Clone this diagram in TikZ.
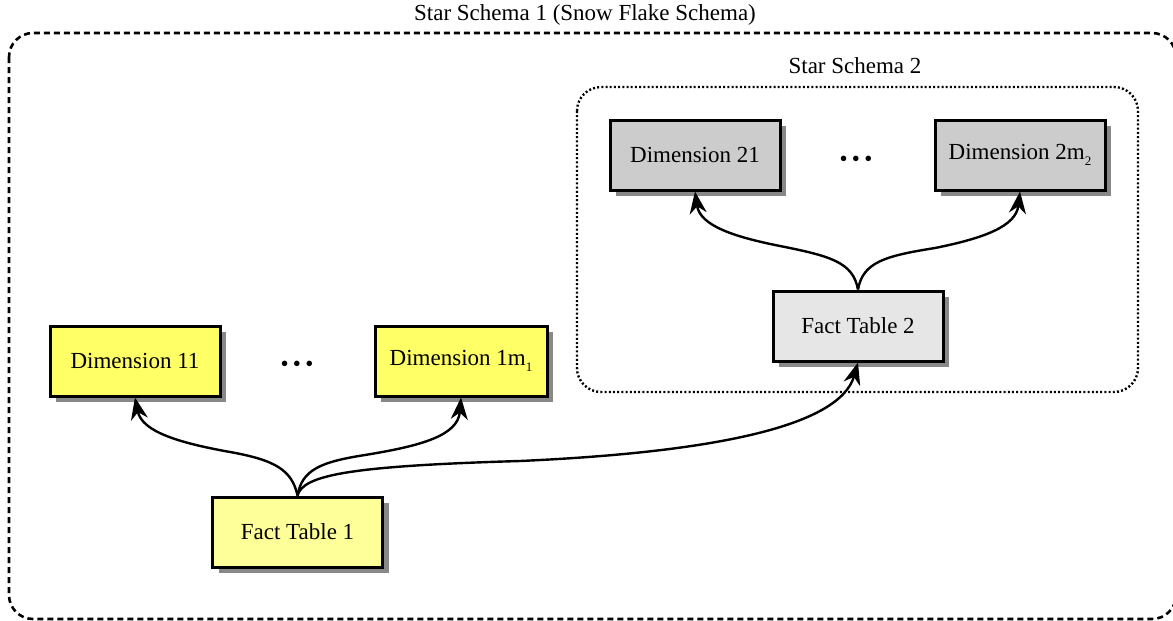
\documentclass[tikz,border=0pt]{standalone}
\usepackage{fontspec}
\setmainfont{Liberation Serif}
\usetikzlibrary{arrows.meta,shadows}
\definecolor{dimyellow}{RGB}{255,255,102}
\definecolor{factyellow}{RGB}{255,255,153}
\definecolor{dimgray}{RGB}{204,204,204}
\definecolor{factgray}{RGB}{230,230,230}
\definecolor{shadowgray}{RGB}{136,136,136}
\newcommand{\sub}[1]{\raisebox{-0.5ex}{\fontsize{6.5}{8}\selectfont #1}}
\newcommand{\bigdots}{\textbullet\hspace{2.2pt}\textbullet\hspace{2.2pt}\textbullet}
\begin{document}
\begin{tikzpicture}[x=0.5pt,y=-0.5pt,
  tbl/.style={draw,line width=1.5pt,minimum width=85pt,minimum height=35pt,
    inner sep=2pt,font=\fontsize{11.5}{14}\selectfont,
    drop shadow={shadow xshift=3pt,shadow yshift=-2.8pt,fill=shadowgray,opacity=1}},
  link/.style={line width=1.2pt,-{Stealth[length=11pt,width=8.5pt,inset=3.5pt]}},
  lbl/.style={font=\fontsize{11.5}{14}\selectfont},
  dotsx/.style={font=\fontsize{11.5}{14}\selectfont,inner sep=0pt}]
\useasboundingbox (0,0) rectangle (1173,621);

% outer schema frame
\draw[line width=1.3pt,dash pattern=on 3pt off 2pt,rounded corners=12pt]
  (9,33) rectangle (1176,619);
\node[lbl] (t1) at (585,15) {Star Schema 1 (Snow Flake Schema)};

% inner schema frame
\draw[line width=1.2pt,dash pattern=on 1pt off 1.1pt,rounded corners=12pt]
  (577,87) rectangle (1138,392);
\node[lbl] (t2) at (855,66) {Star Schema 2};

% tables of the first star
\node[tbl,fill=dimyellow] (d11) at (135,361) {Dimension 11};
\node[tbl,fill=dimyellow,minimum width=86pt] (d1m) at (461,361) {Dimension 1m\sub{1}};
\node[tbl,fill=factyellow] (ft1) at (297.5,532) {Fact Table 1};
\node[dotsx] (dots1) at (297,366) {\bigdots};

% tables of the second star
\node[tbl,fill=dimgray] (d21) at (695,155) {Dimension 21};
\node[tbl,fill=dimgray] (d2m) at (1020,155) {Dimension 2m\sub{2}};
\node[tbl,fill=factgray] (ft2) at (858,326) {Fact Table 2};
\node[dotsx] (dots2) at (856,161) {\bigdots};

% links
\draw[link] (ft1.north) .. controls (292,470) and (275,460) .. (230,452)
  .. controls (180,443) and (142,432) .. (d11.south);
\draw[link] (ft1.north) .. controls (302,470) and (320,462) .. (365,455)
  .. controls (420,446) and (458,436) .. (d1m.south);
\draw[link] (ft1.north) .. controls (303,475) and (350,466) .. (520,461)
  .. controls (720,452) and (840,425) .. (ft2.south);
\draw[link] (ft2.north) .. controls (853,262) and (830,256) .. (780,246)
  .. controls (735,237) and (700,226) .. (d21.south);
\draw[link] (ft2.north) .. controls (863,262) and (885,256) .. (935,248)
  .. controls (985,238) and (1016,226) .. (d2m.south);
\end{tikzpicture}
\end{document}
